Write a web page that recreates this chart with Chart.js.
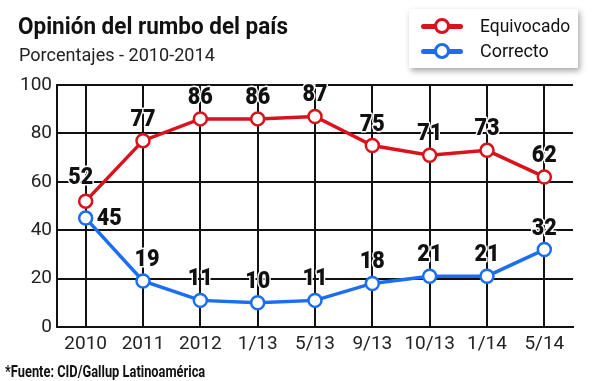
<!DOCTYPE html>
<html><head><meta charset="utf-8">
<script src="https://cdn.jsdelivr.net/npm/chart.js@4/dist/chart.umd.min.js"></script>
<style>
html,body{margin:0;padding:0;background:#fff;}
#wrap{position:relative;width:600px;height:381px;overflow:hidden;font-family:Roboto,sans-serif;}
#c{position:absolute;left:0;top:0;}
.fit{position:absolute;white-space:nowrap;transform-origin:0 0;}
.title{left:18px;top:13px;font-size:23px;font-weight:bold;color:#111;}
.sub{left:19px;top:43px;font-size:19px;color:#222;}
.foot{left:5px;top:362px;font-size:16px;font-weight:bold;color:#111;}
.legend{position:absolute;left:409px;top:9px;width:169px;height:59px;background:#fff;box-shadow:2px 3px 6px rgba(0,0,0,0.35);}
.li{position:absolute;left:12px;height:24px;}
.mk{position:absolute;left:0;top:0;width:42px;height:24px;}
.mk .ln{position:absolute;left:0;top:10px;width:42px;height:4.5px;border-radius:2.5px;}
.mk .ci{position:absolute;left:13px;top:4px;width:10px;height:10px;border-radius:50%;background:#fff;border:3.5px solid;}
.lt{left:59px;top:0px;font-size:19px;color:#111;line-height:24px;}
</style></head>
<body><div id="wrap">
<canvas id="c" width="600" height="381"></canvas>
<div class="fit title" data-w="270">Opinión del rumbo del país</div>
<div class="fit sub" data-w="196">Porcentajes - 2010-2014</div>
<div class="legend">
 <div class="li" style="top:5px;"><div class="mk"><div class="ln" style="background:#d8131b"></div><div class="ci" style="border-color:#d8131b"></div></div><div class="fit lt" data-w="90">Equivocado</div></div>
 <div class="li" style="top:30px;"><div class="mk"><div class="ln" style="background:#1c6ef0"></div><div class="ci" style="border-color:#1c6ef0"></div></div><div class="fit lt" data-w="69">Correcto</div></div>
</div>
<div class="fit foot" data-w="200">*Fuente: CID/Gallup Latinoamérica</div>
</div>
<script>
const categories = ["2010","2011","2012","1/13","5/13","9/13","10/13","1/14","5/14"];
const equivocado = [52,77,86,86,87,75,71,73,62];
const correcto = [45,19,11,10,11,18,21,21,32];
const yTicks = [0,20,40,60,80,100];

document.querySelectorAll('.fit').forEach(el => {
  const w = parseFloat(el.dataset.w);
  el.style.transform = 'scaleX(' + (w / el.offsetWidth) + ')';
});

const FONT = "Roboto,sans-serif";
const RED = '#d8131b', BLUE = '#1c6ef0';

const labelPlugin = {
  id: 'vlabels',
  afterDatasetsDraw(chart) {
    const ctx = chart.ctx;
    chart.data.datasets.forEach((ds, di) => {
      const meta = chart.getDatasetMeta(di);
      meta.data.forEach((pt, i) => {
        let x = pt.x, y = pt.y - 22, align = 'center';
        if (di === 1 && i === 0) { x = pt.x + 11; y = pt.y; align = 'left'; }
        if (di === 0 && i === 0) { x = pt.x - 5; y = pt.y - 24; }
        if (di === 1 && i === 1) { x = pt.x + 4; }
        ctx.save();
        ctx.translate(x, y);
        ctx.scale(0.9, 1);
        ctx.font = '900 24px ' + FONT;
        ctx.textBaseline = 'middle';
        ctx.textAlign = align;
        ctx.lineJoin = 'round';
        ctx.strokeStyle = '#fff';
        ctx.lineWidth = 3;
        ctx.strokeText(String(ds.data[i]), 0, 1);
        ctx.fillStyle = '#111';
        ctx.fillText(String(ds.data[i]), 0, 1);
        ctx.restore();
      });
    });
  }
};

new Chart(document.getElementById('c'), {
  type: 'line',
  data: {
    labels: categories,
    datasets: [
      { label: 'Equivocado', data: equivocado, borderColor: RED, backgroundColor: '#fff',
        borderWidth: 3.5, pointRadius: 6.5, pointBorderWidth: 2.5, pointBackgroundColor: '#fff', pointBorderColor: RED, tension: 0 },
      { label: 'Correcto', data: correcto, borderColor: BLUE, backgroundColor: '#fff',
        borderWidth: 3.5, pointRadius: 6.5, pointBorderWidth: 2.5, pointBackgroundColor: '#fff', pointBorderColor: BLUE, tension: 0 }
    ]
  },
  options: {
    responsive: false, animation: false,
    layout: { padding: { top: 85, right: 27, left: 0, bottom: 0 } },
    plugins: { legend: { display: false }, tooltip: { enabled: false } },
    scales: {
      x: {
        offset: true,
        grid: { offset: false, color: '#111', lineWidth: 2, drawTicks: false },
        border: { color: '#111', width: 2 },
        ticks: { color: '#222', font: { family: FONT, size: 19 }, padding: 6, maxRotation: 0, autoSkip: false },
        afterFit(s) { s.height = 54; }
      },
      y: {
        min: 0, max: 100,
        afterBuildTicks(s) { s.ticks = yTicks.map(v => ({ value: v })); },
        grid: { color: '#111', lineWidth: 2, drawTicks: false },
        border: { color: '#111', width: 2 },
        ticks: { color: '#222', font: { family: FONT, size: 19 }, padding: 5 },
        afterFit(s) { s.width = 57; }
      }
    }
  },
  plugins: [labelPlugin]
});
</script>
</body></html>
